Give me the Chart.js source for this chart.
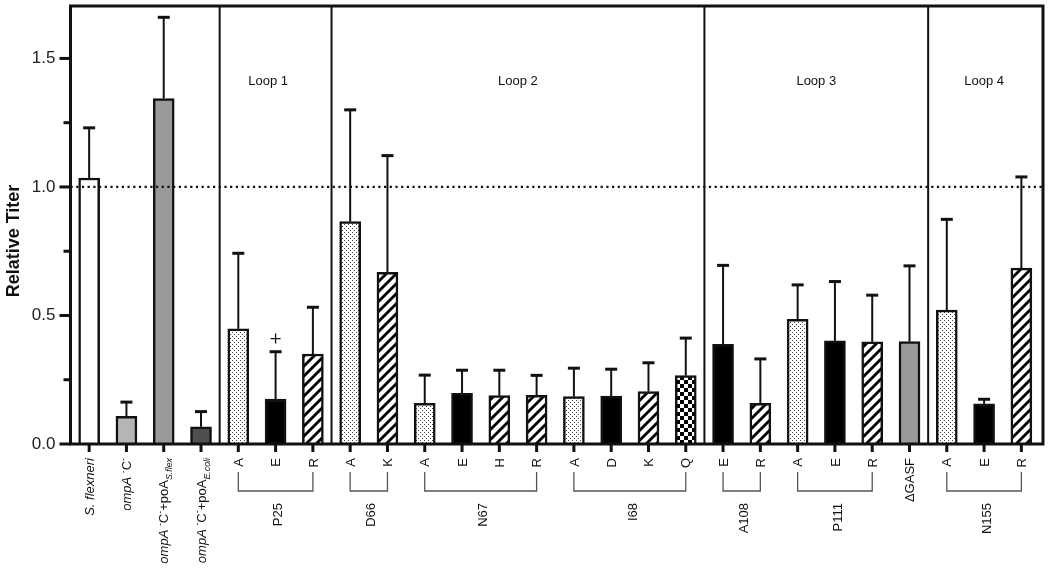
<!DOCTYPE html>
<html>
<head>
<meta charset="utf-8">
<script src="https://cdn.jsdelivr.net/npm/chart.js@4.4.1/dist/chart.umd.min.js"></script>
<style>
  html, body { margin: 0; padding: 0; background: #fff; }
  #wrap { width: 1050px; height: 575px; }
</style>
</head>
<body>
<div id="wrap"><canvas id="titerChart" width="1050" height="575"></canvas></div>
<script>
// Relative titer per strain / mutant (bar height) and upper error (SD)
const mutations = ['', '', '', '', 'A', 'E', 'R', 'A', 'K', 'A', 'E', 'H', 'R',
    'A', 'D', 'K', 'Q', 'E', 'R', 'A', 'E', 'R', '\u0394GASF', 'A', 'E', 'R'];
const values = [1.035, 0.108, 1.344, 0.067, 0.448, 0.175, 0.350, 0.865, 0.668,
    0.158, 0.197, 0.188, 0.189, 0.184, 0.186, 0.204, 0.266, 0.388, 0.158,
    0.485, 0.401, 0.397, 0.398, 0.521, 0.156, 0.684];
const errors = [0.195, 0.055, 0.316, 0.059, 0.294, 0.184, 0.182, 0.435, 0.454,
    0.110, 0.090, 0.099, 0.078, 0.111, 0.105, 0.112, 0.146, 0.307, 0.173,
    0.134, 0.231, 0.182, 0.295, 0.353, 0.018, 0.355];
const fillKinds = ['white', 'light', 'mid', 'dark', 'dots', 'solid', 'hatch', 'dots', 'hatch',
    'dots', 'solid', 'hatch', 'hatch', 'dots', 'solid', 'hatch', 'check', 'solid', 'hatch',
    'dots', 'solid', 'hatch', 'mid', 'dots', 'solid', 'hatch'];

// residue groups (bracketed labels under the axis)
const groupNames = ['P25', 'D66', 'N67', 'I68', 'A108', 'P111', 'N155'];
const groupStart = [4, 7, 9, 13, 17, 19, 23];
const groupEnd = [6, 8, 12, 16, 18, 21, 25];

// loop sections
const loopNames = ['Loop 1', 'Loop 2', 'Loop 3', 'Loop 4'];
const loopCenters = [4.8, 11.5, 19.5, 24.0];
const loopDividers = [3.5, 6.5, 16.5, 22.5];

const yTicks = [0, 0.5, 1.0, 1.5];
const yMinorTicks = [0.25, 0.75, 1.25];
const referenceLevel = 1.0;
const markedBar = 5;       // the "+" above P25 E
const markLevel = 0.41;

const FONT = "'Liberation Sans', Arial, sans-serif";

function makePattern(kind) {
    const c = document.createElement('canvas');
    const g = c.getContext('2d');
    if (kind === 'dots') {
        c.width = 4; c.height = 4;
        g.fillStyle = '#fff'; g.fillRect(0, 0, 4, 4);
        g.fillStyle = '#444';
        g.fillRect(0, 0, 1, 1);
        g.fillRect(2, 2, 1, 1);
    } else if (kind === 'hatch') {
        c.width = 10; c.height = 10;
        g.fillStyle = '#fff'; g.fillRect(0, 0, 10, 10);
        g.strokeStyle = '#000'; g.lineWidth = 2.8;
        [[-5, 5, 5, -5], [0, 10, 10, 0], [5, 15, 15, 5]].forEach(s => {
            g.beginPath(); g.moveTo(s[0], s[1]); g.lineTo(s[2], s[3]); g.stroke();
        });
    } else if (kind === 'check') {
        c.width = 8; c.height = 8;
        g.fillStyle = '#fff'; g.fillRect(0, 0, 8, 8);
        g.fillStyle = '#000';
        g.fillRect(0, 0, 4, 4);
        g.fillRect(4, 4, 4, 4);
    }
    return g.createPattern(c, 'repeat');
}

const ctx = document.getElementById('titerChart').getContext('2d');
const fillMap = {
    white: '#ffffff', light: '#b5b5b5', mid: '#9a9a9a', dark: '#4f4f4f', solid: '#000000',
    dots: makePattern('dots'), hatch: makePattern('hatch'), check: makePattern('check')
};

// rich text drawn rotated -90deg, text end placed at yTop
function drawRotated(g, x, yTop, parts, size) {
    g.save();
    g.translate(x, yTop);
    g.rotate(-Math.PI / 2);
    g.textAlign = 'left';
    g.textBaseline = 'alphabetic';
    let total = 0;
    parts.forEach(p => {
        const s = p.sub || p.sup ? size * 0.68 : size;
        p.font = (p.it ? 'italic ' : '') + s + 'px ' + FONT;
        g.font = p.font;
        p.w = g.measureText(p.t).width;
        total += p.w;
    });
    let cx = -total;
    const base = size * 0.36;
    parts.forEach(p => {
        g.font = p.font;
        const dy = p.sub ? size * 0.3 : (p.sup ? -size * 0.42 : 0);
        g.fillText(p.t, cx, base + dy);
        cx += p.w;
    });
    g.restore();
}

const strainLabels = [
    [{ t: 'S. flexneri', it: true }],
    [{ t: 'ompA', it: true }, { t: ' ' }, { t: '-', sup: true }, { t: 'C' }, { t: '-', sup: true }],
    [{ t: 'ompA', it: true }, { t: ' ' }, { t: '-', sup: true }, { t: 'C' }, { t: '-', sup: true },
        { t: '+poA' }, { t: 'S.flex', sub: true, it: true }],
    [{ t: 'ompA', it: true }, { t: ' ' }, { t: '-', sup: true }, { t: 'C' }, { t: '-', sup: true },
        { t: '+poA' }, { t: 'E.coli', sub: true, it: true }]
];

const decorations = {
    id: 'decorations',
    afterDatasetsDraw(chart) {
        const g = chart.ctx;
        const xs = chart.scales.x, ys = chart.scales.y;
        const a = chart.chartArea;
        const ink = '#111';
        g.save();
        g.lineCap = 'butt';

        // error bars (upper only)
        g.strokeStyle = ink;
        values.forEach((v, i) => {
            const x = xs.getPixelForValue(i);
            const y0 = ys.getPixelForValue(v);
            const y1 = ys.getPixelForValue(v + errors[i]);
            g.lineWidth = 2;
            g.beginPath(); g.moveTo(x, y0); g.lineTo(x, y1); g.stroke();
            g.lineWidth = 3;
            g.beginPath(); g.moveTo(x - 6, y1); g.lineTo(x + 6, y1); g.stroke();
        });

        // "+" mark
        const px = xs.getPixelForValue(markedBar), py = ys.getPixelForValue(markLevel);
        g.lineWidth = 1.3;
        g.beginPath();
        g.moveTo(px - 5, py); g.lineTo(px + 5, py);
        g.moveTo(px, py - 5); g.lineTo(px, py + 5);
        g.stroke();

        // dotted reference line
        const yr = ys.getPixelForValue(referenceLevel);
        g.lineWidth = 2.2;
        g.setLineDash([2.2, 3.5]);
        g.beginPath(); g.moveTo(a.left, yr); g.lineTo(a.right, yr); g.stroke();
        g.setLineDash([]);

        // loop dividers
        g.lineWidth = 2;
        loopDividers.forEach(d => {
            const x = xs.getPixelForValue(d);
            g.beginPath(); g.moveTo(x, a.top); g.lineTo(x, a.bottom); g.stroke();
        });

        // frame
        g.lineWidth = 3;
        g.beginPath();
        g.moveTo(a.left, a.bottom + 1.5); g.lineTo(a.left, a.top);
        g.lineTo(a.right, a.top); g.lineTo(a.right, a.bottom + 1.5);
        g.moveTo(a.left - 1.5, a.bottom); g.lineTo(a.right + 1.5, a.bottom);
        g.stroke();

        // y ticks
        yTicks.forEach(t => {
            const y = ys.getPixelForValue(t);
            g.beginPath(); g.moveTo(a.left - 11, y); g.lineTo(a.left, y); g.stroke();
        });
        yMinorTicks.forEach(t => {
            const y = ys.getPixelForValue(t);
            g.beginPath(); g.moveTo(a.left - 7, y); g.lineTo(a.left, y); g.stroke();
        });
        // x ticks
        values.forEach((v, i) => {
            const x = xs.getPixelForValue(i);
            g.beginPath(); g.moveTo(x, a.bottom); g.lineTo(x, a.bottom + 8); g.stroke();
        });

        // loop labels
        g.fillStyle = ink;
        g.font = '13px ' + FONT;
        g.textAlign = 'center';
        g.textBaseline = 'middle';
        const ly = ys.getPixelForValue(1.41);
        loopNames.forEach((n, i) => g.fillText(n, xs.getPixelForValue(loopCenters[i]), ly));

        // x labels
        const row1 = a.bottom + 14;
        strainLabels.forEach((parts, i) => drawRotated(g, xs.getPixelForValue(i), row1, parts, 13));
        mutations.forEach((m, i) => {
            if (m) drawRotated(g, xs.getPixelForValue(i), row1, [{ t: m }], 13);
        });

        // brackets + residue names
        g.strokeStyle = '#555';
        g.lineWidth = 1.3;
        groupNames.forEach((n, i) => {
            const x0 = xs.getPixelForValue(groupStart[i]);
            const x1 = xs.getPixelForValue(groupEnd[i]);
            g.beginPath();
            g.moveTo(x0, a.bottom + 28); g.lineTo(x0, a.bottom + 47);
            g.lineTo(x1, a.bottom + 47); g.lineTo(x1, a.bottom + 28);
            g.stroke();
            drawRotated(g, (x0 + x1) / 2 + 2, a.bottom + 59, [{ t: n }], 13);
        });

        // y axis title
        g.save();
        g.translate(14, 241);
        g.rotate(-Math.PI / 2);
        g.font = 'bold 18px ' + FONT;
        g.textAlign = 'center';
        g.textBaseline = 'middle';
        g.fillText('Relative Titer', 0, 0);
        g.restore();

        g.restore();
    }
};

new Chart(ctx, {
    type: 'bar',
    data: {
        datasets: [{
            data: values.map((v, i) => ({ x: i, y: v })),
            backgroundColor: fillKinds.map(k => fillMap[k]),
            borderColor: '#111',
            borderWidth: 2.5,
            barThickness: 21
        }]
    },
    options: {
        responsive: false,
        animation: false,
        events: [],
        layout: { padding: { top: 6, right: 7, bottom: 131, left: 0 } },
        plugins: { legend: { display: false }, tooltip: { enabled: false } },
        scales: {
            x: { type: 'linear', min: -0.5, max: 25.58, offset: false, display: false },
            y: {
                min: 0,
                max: 1.704,
                afterFit: s => {
                    s.width = 70.5;
                    s.paddingTop = 0;
                    s.paddingBottom = 0;
                },
                afterBuildTicks: s => { s.ticks = yTicks.map(v => ({ value: v })); },
                border: { display: false },
                grid: { display: true, drawOnChartArea: false, drawTicks: true, tickLength: 11, color: 'rgba(0,0,0,0)' },
                ticks: {
                    padding: 4,
                    color: '#222',
                    font: { family: FONT, size: 17 },
                    callback: v => Number(v).toFixed(1)
                }
            }
        }
    },
    plugins: [decorations]
});
</script>
</body>
</html>
